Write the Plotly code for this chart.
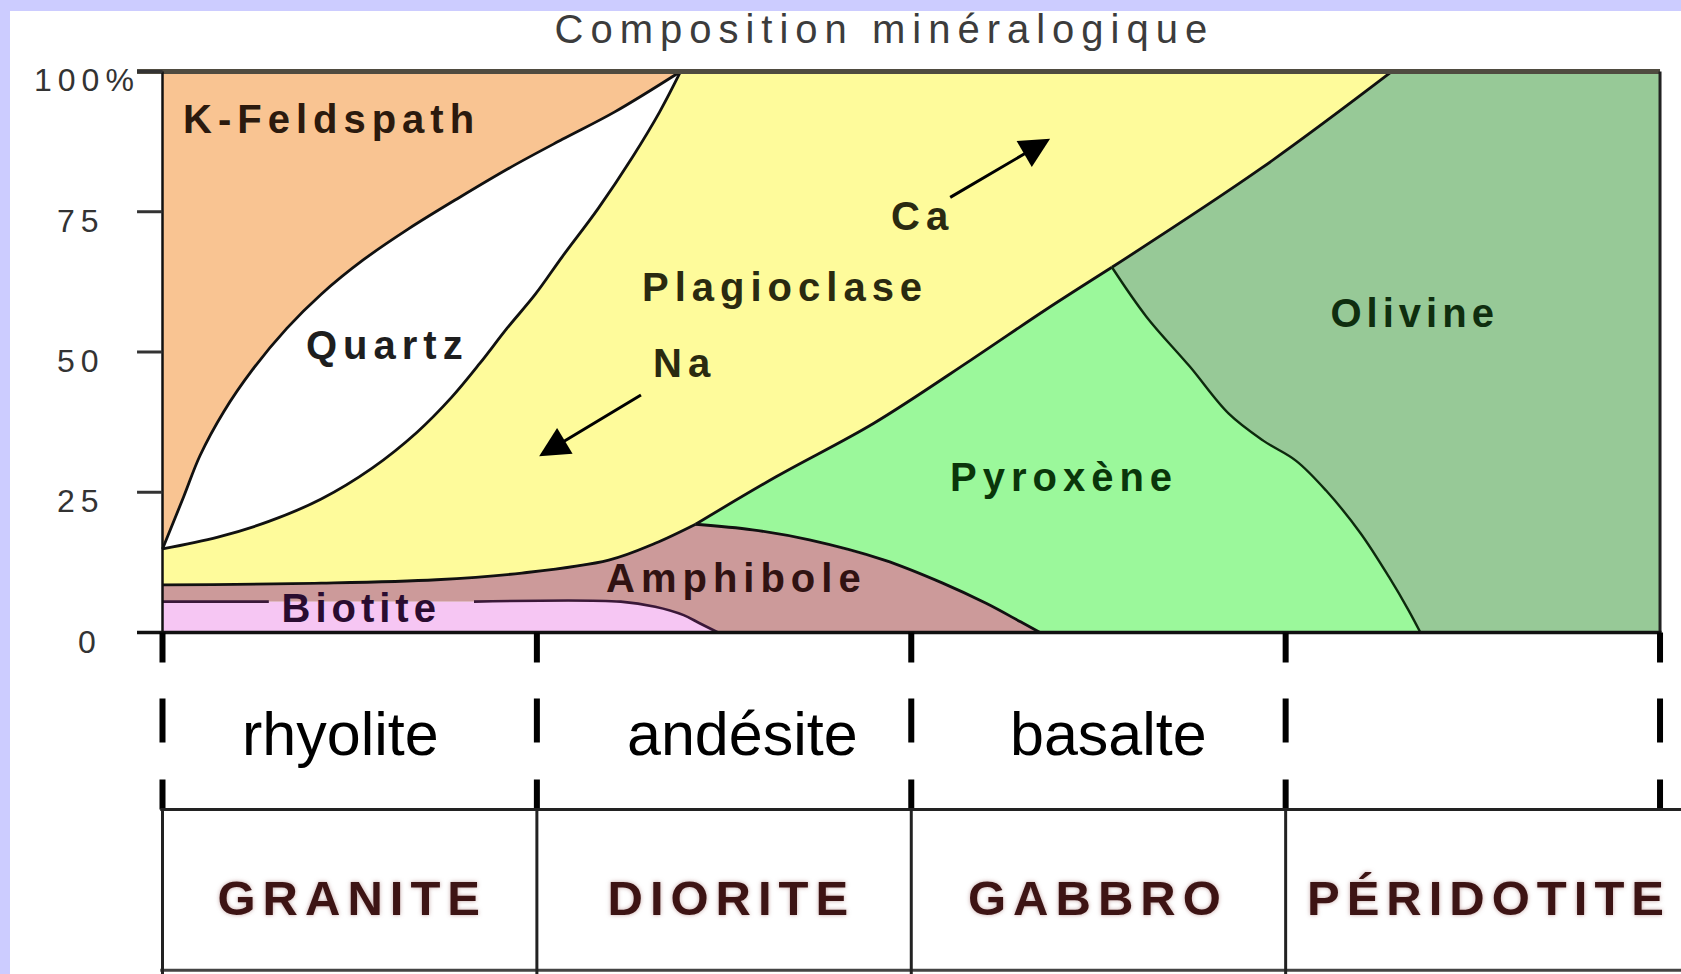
import json
import plotly.graph_objects as go

# ---------------------------------------------------------------------------
# Data
# ---------------------------------------------------------------------------
# Horizontal axis: position along the magmatic series (0 = acid, 100 = ultrabasic)
class_edges = [0, 25, 50, 75, 100]
volcanic_names = ["rhyolite", "andésite", "basalte"]
volcanic_x = [11.9, 38.7, 63.2]
plutonic_names = ["GRANITE", "DIORITE", "GABBRO", "PÉRIDOTITE"]
plutonic_x = [12.7, 38.0, 62.5, 88.6]

# Vertical axis: cumulative mineral proportion (%)
y_tick_vals = [0, 25, 50, 75, 100]
y_tick_text = ["0", "25", "50", "75", "100%"]

# Field boundaries (x along the series, y cumulative %)
kfs_qtz_x = [0.0, 1.4, 2.5, 4.1, 6.0, 8.3, 10.6, 13.4, 16.4, 19.8, 23.3, 26.7, 30.2, 34.6]
kfs_qtz_y = [14.9, 24.1, 31.5, 39.4, 46.8, 54.2, 60.3, 66.4, 71.9, 77.5, 83.0, 87.9, 92.8, 100.0]
qtz_plg_x = [0.0, 3.7, 7.1, 10.6, 14.0, 17.0, 19.3, 21.2, 23.0, 24.9, 26.7, 29.1, 31.4, 33.2, 34.6]
qtz_plg_y = [14.9, 17.0, 19.8, 23.8, 29.3, 35.7, 41.9, 48.0, 54.2, 60.3, 67.0, 75.6, 84.8, 92.8, 100.0]
plg_amp_x = [0.0, 10.6, 18.3, 24.0, 29.8, 32.9, 35.6]
plg_amp_y = [8.5, 8.8, 9.4, 10.6, 12.9, 15.9, 19.3]
amp_pyx_x = [35.6, 39.4, 43.2, 48.2, 52.1, 55.0, 57.3, 58.6]
amp_pyx_y = [19.3, 18.3, 16.5, 12.9, 8.8, 5.2, 1.9, 0.0]
amp_bio_x = [0.0, 7.1, 20.8, 30.6, 32.9, 34.8, 35.9, 37.1]
amp_bio_y = [5.5, 5.5, 5.5, 5.5, 4.6, 3.1, 1.6, 0.0]
plg_pyx_x = [35.6, 41.0, 47.5, 54.0, 58.9, 63.4]
plg_pyx_y = [19.3, 27.8, 37.3, 48.6, 57.4, 65.1]
plg_ol_x = [63.4, 73.4, 82.1]
plg_ol_y = [65.1, 82.8, 100.0]
pyx_ol_x = [63.4, 65.7, 68.6, 71.2, 73.5, 75.7, 77.7, 80.0, 81.9, 83.2, 84.0]
pyx_ol_y = [65.1, 56.3, 47.4, 39.0, 34.2, 30.6, 25.3, 17.7, 9.9, 4.0, 0.0]

# Mineral labels
mineral_names = ["K-Feldspath", "Quartz", "Plagioclase", "Ca", "Na",
                 "Olivine", "Pyroxène", "Amphibole", "Biotite"]
mineral_x = [11.3, 15.0, 41.6, 50.8, 34.9, 83.6, 60.2, 38.3, 13.25]
mineral_y = [91.6, 51.3, 61.6, 74.3, 48.0, 57.0, 27.7, 9.8, 4.4]

# Plagioclase composition arrows (Ca-rich up, Na-rich down)
arrow_tail_x = [52.5, 32.05]
arrow_tail_y = [77.4, 42.5]
arrow_head_x = [59.27, 25.15]
arrow_head_y = [88.0, 31.4]

TITLE = "Composition minéralogique"

# ---------------------------------------------------------------------------
# Layout constants
# ---------------------------------------------------------------------------
W, H = 1681, 974
M_LEFT, M_TOP = 130, 11
X_RANGE = [-2.17, 101.4]
Y_RANGE = [-60.87, 110.78]
TABLE_TOP = -31.55
TABLE_BOTTOM = -60.2
TICK_LEN = 1.7
TICK_LABEL_RIGHT = (101 - M_LEFT) / (W - M_LEFT)   # paper x of tick-label right edge

LAVENDER = "#ccccff"
COL = {
    "kfs": "#f9c492",
    "qtz": "#ffffff",
    "plg": "#fefb9b",
    "amp": "#cc9a9a",
    "bio": "#f6c6f3",
    "pyx": "#9bf89b",
    "ol": "#97c997",
}


def rev(a):
    return list(a)[::-1]


# Closed field polygons assembled from the shared boundaries
fields = [
    ("kfs", kfs_qtz_x + [0], kfs_qtz_y + [100]),
    ("qtz", kfs_qtz_x + rev(qtz_plg_x), kfs_qtz_y + rev(qtz_plg_y)),
    ("plg",
     plg_amp_x + plg_pyx_x[1:] + plg_ol_x[1:] + rev(qtz_plg_x),
     plg_amp_y + plg_pyx_y[1:] + plg_ol_y[1:] + rev(qtz_plg_y)),
    ("amp",
     plg_amp_x + amp_pyx_x[1:] + rev(amp_bio_x),
     plg_amp_y + amp_pyx_y[1:] + rev(amp_bio_y)),
    ("bio", amp_bio_x + [0], amp_bio_y + [0]),
    ("pyx",
     plg_pyx_x + pyx_ol_x[1:] + rev(amp_pyx_x)[:-1],
     plg_pyx_y + pyx_ol_y[1:] + rev(amp_pyx_y)[:-1]),
    ("ol",
     plg_ol_x + [100, 100] + rev(pyx_ol_x),
     plg_ol_y + [100, 0] + rev(pyx_ol_y)),
]

fig = go.Figure()

for key, fx, fy in fields:
    fig.add_trace(go.Scatter(
        x=fx, y=fy, mode="lines", fill="toself", fillcolor=COL[key],
        line=dict(width=0, color=COL[key]), hoverinfo="skip"))


def add_line(x, y, color="#111111", width=2.8, shape="spline", dash=None):
    fig.add_trace(go.Scatter(
        x=x, y=y, mode="lines", hoverinfo="skip",
        line=dict(color=color, width=width, shape=shape, dash=dash)))


# Field boundaries
add_line(kfs_qtz_x, kfs_qtz_y)
add_line(qtz_plg_x, qtz_plg_y)
add_line(plg_amp_x, plg_amp_y)
add_line(amp_pyx_x, amp_pyx_y)
add_line(plg_pyx_x, plg_pyx_y)
add_line(plg_ol_x, plg_ol_y)
add_line(pyx_ol_x, pyx_ol_y, color="#0d2a0d", width=2.4)
# biotite limit, interrupted by its label
add_line(amp_bio_x[:2], amp_bio_y[:2], color="#3a1838", width=2.6, shape="linear")
add_line(amp_bio_x[2:], amp_bio_y[2:], color="#3a1838", width=2.6)

# Frame of the diagram
add_line([-TICK_LEN, 100], [100, 100], color="#4f4b40", width=5, shape="linear")
add_line([0, 0], [0, 100], color="#111111", width=2.5, shape="linear")
add_line([100, 100], [0, 100], color="#222222", width=3, shape="linear")
tick_x, tick_y = [], []
for v in y_tick_vals:
    tick_x += [-TICK_LEN, 0, None]
    tick_y += [v, v, None]
add_line(tick_x, tick_y, color="#333333", width=3, shape="linear")
add_line([-TICK_LEN, 100.1], [0, 0], color="#111111", width=3.5, shape="linear")

# Dashed separators between the rock families
dash_x, dash_y = [], []
for e in class_edges:
    dash_x += [e, e, None]
    dash_y += [0, TABLE_TOP, None]
add_line(dash_x, dash_y, color="#000000", width=6, shape="linear",
         dash="30px,36px,44px,37px,32px")

# Table of plutonic rocks
add_line([-0.15, X_RANGE[1]], [TABLE_TOP, TABLE_TOP], color="#222222", width=3, shape="linear")
add_line([-0.15, X_RANGE[1]], [TABLE_BOTTOM, TABLE_BOTTOM], color="#444444", width=3, shape="linear")
col_x, col_y = [], []
for e in class_edges[:-1]:
    col_x += [e, e, None]
    col_y += [TABLE_TOP, Y_RANGE[0], None]
add_line(col_x, col_y, color="#222222", width=3, shape="linear")

# ---------------------------------------------------------------------------
# Texts
# ---------------------------------------------------------------------------
SANS = "Liberation Sans, Arial, sans-serif"
annotations = []

annotations.append(dict(
    x=48.2, y=107.6, text=TITLE, showarrow=False,
    font=dict(family=SANS, size=40, color="#3c3c3c")))

for v, t in zip(y_tick_vals, y_tick_text):
    annotations.append(dict(
        xref="paper", x=TICK_LABEL_RIGHT, y=v, text=t, showarrow=False,
        xanchor="right", yshift=-9,
        xshift=29 if t.endswith("%") else 0,
        font=dict(family=SANS, size=32, color="#333333")))

mineral_colors = ["#2b1a0e", "#1e1e1e", "#2a2a10", "#2a2a10", "#2a2a10",
                  "#0f2e0f", "#0a360a", "#301212", "#2a0c30"]
for name, mx, my, c in zip(mineral_names, mineral_x, mineral_y, mineral_colors):
    annotations.append(dict(
        x=mx, y=my, text=name, showarrow=False,
        font=dict(family=SANS, size=40, color=c, weight="bold")))

for tx, ty, hx, hy in zip(arrow_tail_x, arrow_tail_y, arrow_head_x, arrow_head_y):
    annotations.append(dict(
        x=hx, y=hy, ax=tx, ay=ty, axref="x", ayref="y", text="",
        showarrow=True, arrowhead=2, arrowsize=2.0, arrowwidth=3,
        arrowcolor="#000000"))

for name, vx in zip(volcanic_names, volcanic_x):
    annotations.append(dict(
        x=vx, y=-18.1, text=name, showarrow=False,
        font=dict(family=SANS, size=61, color="#000000")))

for name, px in zip(plutonic_names, plutonic_x):
    annotations.append(dict(
        x=px, y=-47.3, text=name, showarrow=False,
        font=dict(family=SANS, size=49, color="#3d1414", weight="bold",
                  shadow="0px 0px 4px rgba(150,95,95,0.55)")))

# Letter spacing (px) applied to the rendered labels
spacing = {TITLE: 7}
for t in y_tick_text:
    spacing[t] = 6
for name in mineral_names:
    spacing[name] = 6
spacing["Biotite"] = 5
spacing["Olivine"] = 5
for name in plutonic_names:
    spacing[name] = 7

fig.update_layout(
    width=W, height=H,
    margin=dict(l=M_LEFT, r=0, t=M_TOP, b=0, pad=0, autoexpand=False),
    paper_bgcolor=LAVENDER, plot_bgcolor="#ffffff",
    showlegend=False, hovermode=False,
    xaxis=dict(range=X_RANGE, visible=False, fixedrange=True),
    yaxis=dict(range=Y_RANGE, visible=False, fixedrange=True),
    annotations=annotations,
    shapes=[dict(type="rect", xref="paper", yref="paper",
                 x0=(10 - M_LEFT) / (W - M_LEFT), x1=0, y0=0, y1=1,
                 fillcolor="#ffffff", line=dict(width=0), layer="below")],
)

js = (
    "var gd=document.getElementById('{plot_id}');"
    "var sp=" + json.dumps(spacing) + ";"
    "function applySpacing(){gd.querySelectorAll('text.annotation-text').forEach(function(t){"
    "var k=t.textContent;if(Object.prototype.hasOwnProperty.call(sp,k)){"
    "t.setAttribute('letter-spacing',sp[k]+'px');}});}"
    "applySpacing();gd.on('plotly_afterplot',applySpacing);"
)

fig.write_html("out.html", post_script=js,
               config=dict(displayModeBar=False, staticPlot=True))
